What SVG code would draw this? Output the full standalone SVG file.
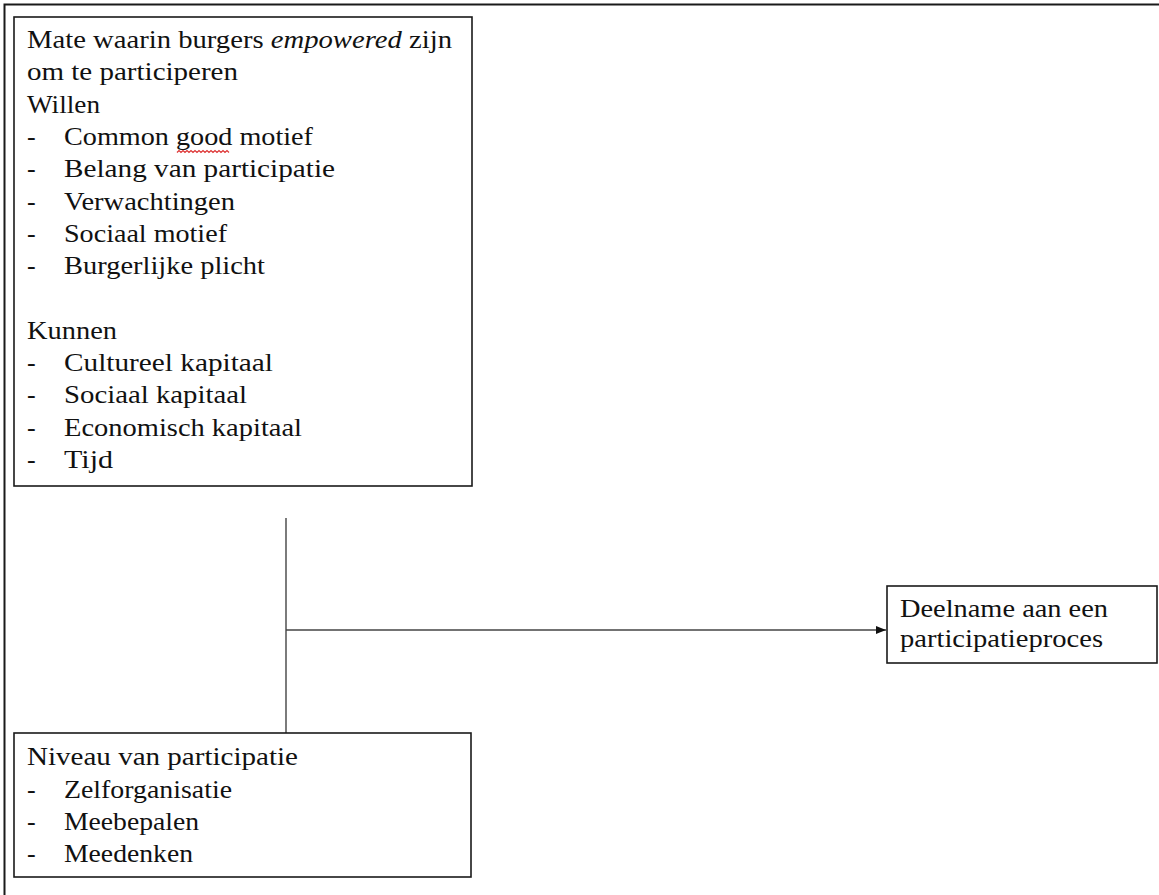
<svg xmlns="http://www.w3.org/2000/svg" width="1159" height="895" viewBox="0 0 1159 895">
<style>
.box{fill:#fff;stroke:#1a1a1a;stroke-width:1.6}
.t{font-family:"Liberation Serif","Times New Roman",serif;font-size:26px;fill:#111}
.c{stroke:#444;stroke-width:1.4;fill:none}
</style>
<defs>
<marker id="ah" viewBox="0 0 10 10" refX="10" refY="5" markerWidth="10" markerHeight="10" markerUnits="userSpaceOnUse" orient="auto">
<path d="M0,1L10,5L0,9z" fill="#111"/>
</marker>
</defs>
<rect width="1159" height="895" fill="#fff"/>
<path d="M4.5,895V4.5H1159" fill="none" stroke="#1a1a1a" stroke-width="2"/>
<g id="connectors">
<line class="c" x1="286" y1="518" x2="286" y2="733"/>
<line class="c" x1="286" y1="630" x2="886" y2="630" marker-end="url(#ah)"/>
</g>
<g id="empowerment">
<rect class="box" x="14" y="17" width="458" height="469"/>
<text class="t" x="27" y="48" textLength="425" lengthAdjust="spacingAndGlyphs">Mate waarin burgers <tspan font-style="italic">empowered</tspan> zijn</text>
<text class="t" x="27" y="80.3" textLength="211" lengthAdjust="spacingAndGlyphs">om te participeren</text>
<text class="t" x="27" y="112.6" textLength="73" lengthAdjust="spacingAndGlyphs">Willen</text>
<text class="t" x="27" y="144.9">-</text><text class="t" x="64" y="144.9" textLength="249" lengthAdjust="spacingAndGlyphs">Common good motief</text>
<path d="M177,152.5l2,-2l2,2l2,-2l2,2l2,-2l2,2l2,-2l2,2l2,-2l2,2l2,-2l2,2l2,-2l2,2l2,-2l2,2l2,-2l2,2l2,-2l2,2l2,-2l2,2l2,-2l2,2l2,-2l2,2" fill="none" stroke="#d33" stroke-width="1.2"/>
<text class="t" x="27" y="177.2">-</text><text class="t" x="64" y="177.2" textLength="271" lengthAdjust="spacingAndGlyphs">Belang van participatie</text>
<text class="t" x="27" y="209.5">-</text><text class="t" x="64" y="209.5" textLength="171" lengthAdjust="spacingAndGlyphs">Verwachtingen</text>
<text class="t" x="27" y="241.8">-</text><text class="t" x="64" y="241.8" textLength="163" lengthAdjust="spacingAndGlyphs">Sociaal motief</text>
<text class="t" x="27" y="274.1">-</text><text class="t" x="64" y="274.1" textLength="201" lengthAdjust="spacingAndGlyphs">Burgerlijke plicht</text>
<text class="t" x="27" y="338.7" textLength="90" lengthAdjust="spacingAndGlyphs">Kunnen</text>
<text class="t" x="27" y="371">-</text><text class="t" x="64" y="371" textLength="209" lengthAdjust="spacingAndGlyphs">Cultureel kapitaal</text>
<text class="t" x="27" y="403.3">-</text><text class="t" x="64" y="403.3" textLength="183" lengthAdjust="spacingAndGlyphs">Sociaal kapitaal</text>
<text class="t" x="27" y="435.6">-</text><text class="t" x="64" y="435.6" textLength="238" lengthAdjust="spacingAndGlyphs">Economisch kapitaal</text>
<text class="t" x="27" y="467.9">-</text><text class="t" x="64" y="467.9" textLength="49" lengthAdjust="spacingAndGlyphs">Tijd</text>
</g>
<g id="niveau">
<rect class="box" x="14" y="733" width="457" height="144"/>
<text class="t" x="27" y="765" textLength="271" lengthAdjust="spacingAndGlyphs">Niveau van participatie</text>
<text class="t" x="27" y="798">-</text><text class="t" x="64" y="798" textLength="168" lengthAdjust="spacingAndGlyphs">Zelforganisatie</text>
<text class="t" x="27" y="830">-</text><text class="t" x="64" y="830" textLength="135" lengthAdjust="spacingAndGlyphs">Meebepalen</text>
<text class="t" x="27" y="862">-</text><text class="t" x="64" y="862" textLength="129" lengthAdjust="spacingAndGlyphs">Meedenken</text>
</g>
<g id="deelname">
<rect class="box" x="887" y="586" width="270" height="77"/>
<text class="t" x="900" y="617" textLength="208" lengthAdjust="spacingAndGlyphs">Deelname aan een</text>
<text class="t" x="900" y="647" textLength="203" lengthAdjust="spacingAndGlyphs">participatieproces</text>
</g>
</svg>
